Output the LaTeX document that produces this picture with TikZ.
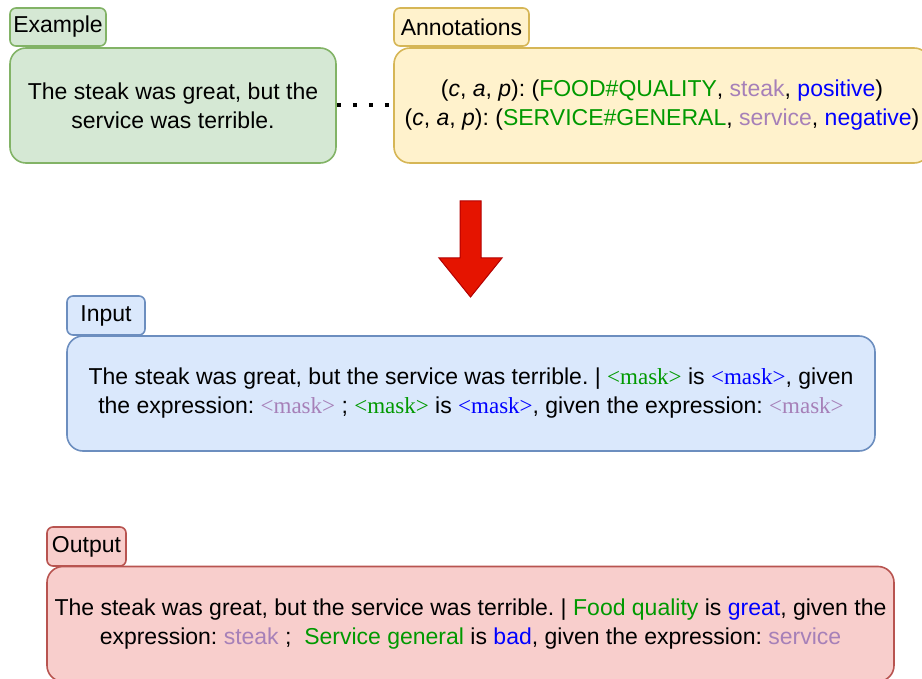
\documentclass[tikz,border=0pt]{standalone}
\usepackage{fontspec}
\setmainfont{Liberation Sans}
\newfontfamily\maskfont{Liberation Serif}
\frenchspacing

\definecolor{aspgreen}{HTML}{009900}
\definecolor{asppurple}{HTML}{A680B8}
\definecolor{aspblue}{HTML}{0000FF}
\definecolor{gfill}{HTML}{D5E8D4}
\definecolor{gline}{HTML}{82B366}
\definecolor{yfill}{HTML}{FFF2CC}
\definecolor{yline}{HTML}{D6B656}
\definecolor{bfill}{HTML}{DAE8FC}
\definecolor{bline}{HTML}{6C8EBF}
\definecolor{rfill}{HTML}{F8CECC}
\definecolor{rline}{HTML}{B85450}
\definecolor{arrowfill}{HTML}{E51400}
\definecolor{arrowline}{HTML}{B20000}

\newcommand{\cat}[1]{\textcolor{aspgreen}{#1}}
\newcommand{\asp}[1]{\textcolor{asppurple}{#1}}
\newcommand{\pol}[1]{\textcolor{aspblue}{#1}}
\newcommand{\mk}[1]{\textcolor{#1}{\maskfont <mask>}}

\tikzset{
  basefont/.style={font=\fontsize{23}{29}\selectfont},
  tabbox/.style={basefont, draw, line width=1.6pt, rounded corners=6pt,
    inner sep=0pt, align=center},
  mainbox/.style={basefont, draw, line width=1.6pt, rounded corners=16pt,
    inner sep=0pt, align=center},
  greenstyle/.style={fill=gfill, draw=gline},
  yellowstyle/.style={fill=yfill, draw=yline},
  bluestyle/.style={fill=bfill, draw=bline},
  redstyle/.style={fill=rfill, draw=rline},
  dotlink/.style={line width=4pt, dash pattern=on 4pt off 12pt, black},
}

\begin{document}
\begin{tikzpicture}[x=1pt, y=-1pt]
\clip (0,0) rectangle (922,679);

% Example sentence
\node[tabbox, greenstyle, minimum width=96pt, minimum height=38pt]
  (extab) at (58,27) {Example};
\node[mainbox, greenstyle, minimum width=326pt, minimum height=115pt]
  (ex) at (173,105.5) {The steak was great, but the\\service was terrible.};

% Annotation tuples
\node[tabbox, yellowstyle, minimum width=135pt, minimum height=38pt]
  (antab) at (461.5,27) {Annotations};
\node[mainbox, yellowstyle, minimum width=536pt, minimum height=115pt]
  (an) at (662,105.5)
  {(\textit{c}, \textit{a}, \textit{p}): (\cat{FOOD\#QUALITY}, \asp{steak}, \pol{positive})\\
   (\textit{c}, \textit{a}, \textit{p}): (\cat{SERVICE\#GENERAL}, \asp{service}, \pol{negative})};

\draw[dotlink] (ex.east) -- (an.west);

% Conversion arrow
\draw[fill=arrowfill, draw=arrowline, line width=1pt, line join=miter]
  (460,201) -- (481,201) -- (481,258) -- (502,258) -- (470.5,297)
  -- (439,258) -- (460,258) -- cycle;

% Model input
\node[tabbox, bluestyle, minimum width=78pt, minimum height=39pt]
  (intab) at (106,315.5) {Input};
\node[mainbox, bluestyle, minimum width=808pt, minimum height=115pt]
  (in) at (471,393.5)
  {The steak was great, but the service was terrible. | \mk{aspgreen} is \mk{aspblue}, given\\
   the expression: \mk{asppurple} ; \mk{aspgreen} is \mk{aspblue}, given the expression: \mk{asppurple}};

% Model output
\node[tabbox, redstyle, minimum width=79pt, minimum height=39pt]
  (outtab) at (86.5,546.5) {Output};
\node[mainbox, redstyle, minimum width=847pt, minimum height=115pt]
  (out) at (470.5,624)
  {The steak was great, but the service was terrible. | \cat{Food quality} is \pol{great}, given the\\
   expression: \asp{steak} ;\ \ \cat{Service general} is \pol{bad}, given the expression: \asp{service}};
\end{tikzpicture}
\end{document}
